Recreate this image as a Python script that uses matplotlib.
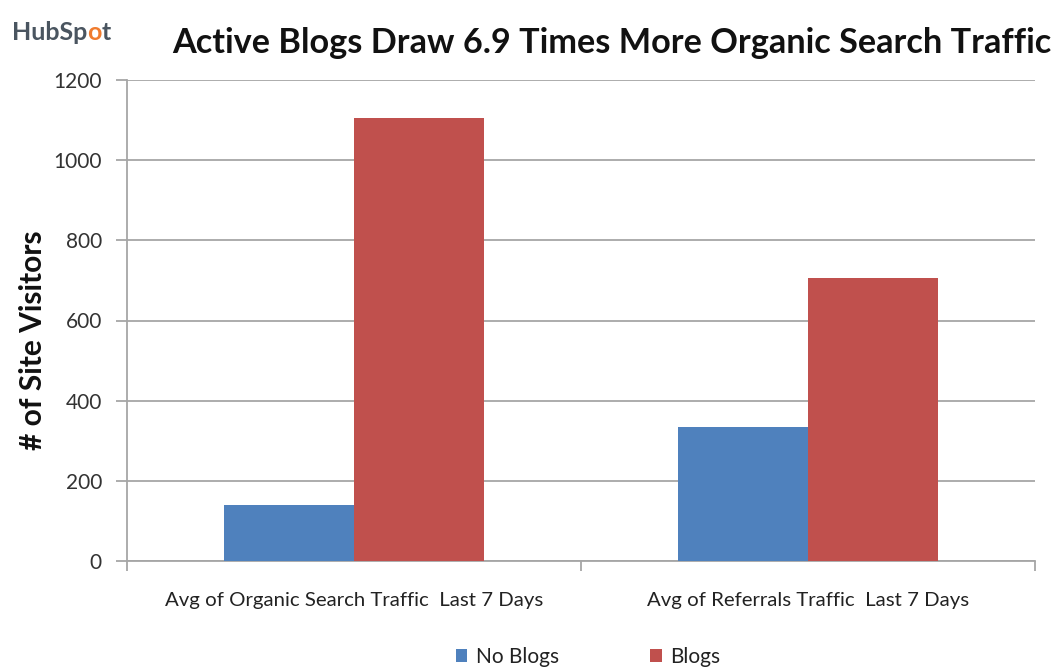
import matplotlib
matplotlib.use("Agg")
import matplotlib.pyplot as plt
import numpy as np

categories = ["Avg of Organic Search Traffic  Last 7 Days", "Avg of Referrals Traffic  Last 7 Days"]
series_names = ["No Blogs", "Blogs"]
no_blogs = [140, 335]
blogs = [1105, 705]
yticks = [0, 200, 400, 600, 800, 1000, 1200]
title = "Active Blogs Draw 6.9 Times More Organic Search Traffic"
ylabel = "# of Site Visitors"

FONT = "Lato"
W, H = 1059, 668
fig = plt.figure(figsize=(W / 100, H / 100), dpi=100)
L, R, T, B = 127, 1035, 80, 561
ax = fig.add_axes([L / W, 1 - B / H, (R - L) / W, (B - T) / H])

x = np.arange(len(categories))
bw = 130 / 454
ax.bar(x - bw / 2, no_blogs, width=bw, color="#4F81BD", label=series_names[0], zorder=3)
ax.bar(x + bw / 2, blogs, width=bw, color="#C0504D", label=series_names[1], zorder=3)

ax.set_xlim(-0.5, 1.5)
ax.set_ylim(0, 1200)
ax.set_yticks(yticks)
ax.set_yticklabels([str(v) for v in yticks], fontsize=15, color="#333333", fontname=FONT)
ax.yaxis.grid(True, color="#A6A6A6", linewidth=1.3, zorder=0)
for s in ["top", "right"]:
    ax.spines[s].set_visible(False)
for s in ["left", "bottom"]:
    ax.spines[s].set_color("#A6A6A6")
    ax.spines[s].set_linewidth(1.3)
ax.tick_params(axis="y", length=8, color="#A6A6A6", width=1.3, pad=10)
ax.set_xticks(x)
ax.set_xticklabels(categories, fontsize=14.7, color="#222222", fontname=FONT)
ax.tick_params(axis="x", length=0, pad=22)
ax.set_xticks([-0.5, 0.5, 1.5], minor=True)
ax.tick_params(axis="x", which="minor", length=7, color="#A6A6A6", width=1.3)

fig.text(33 / W, 1 - 340 / H, ylabel, rotation=90, ha="center", va="center",
         fontsize=21.5, fontweight="bold", fontname=FONT, color="#111111")
fig.text(172 / W, 1 - 43 / H, title, ha="left", va="center",
         fontsize=24.7, fontweight="bold", fontname=FONT, color="#111111")

# logo text
LOGO_FS = 18
t1 = fig.text(12 / W, 1 - 33 / H, "HubSp", ha="left", va="center", fontsize=LOGO_FS,
              fontweight="bold", fontname=FONT, color="#4A5560")
fig.canvas.draw()
bb = t1.get_window_extent()
t2 = fig.text(bb.x1 / W, 1 - 33 / H, "o", ha="left", va="center", fontsize=LOGO_FS,
              fontweight="bold", fontname=FONT, color="#F07B2E")
fig.canvas.draw()
bb2 = t2.get_window_extent()
fig.text(bb2.x1 / W, 1 - 33 / H, "t", ha="left", va="center", fontsize=LOGO_FS,
         fontweight="bold", fontname=FONT, color="#4A5560")

leg = fig.legend(loc="center", bbox_to_anchor=(588 / W, 1 - 657 / H), ncol=2, frameon=False,
                 prop={"family": FONT, "size": 15}, handlelength=0.55, handleheight=0.55,
                 columnspacing=4.4, handletextpad=0.4)
for t in leg.get_texts():
    t.set_color("#222222")

fig.savefig("out.png", dpi=100, facecolor="white")
